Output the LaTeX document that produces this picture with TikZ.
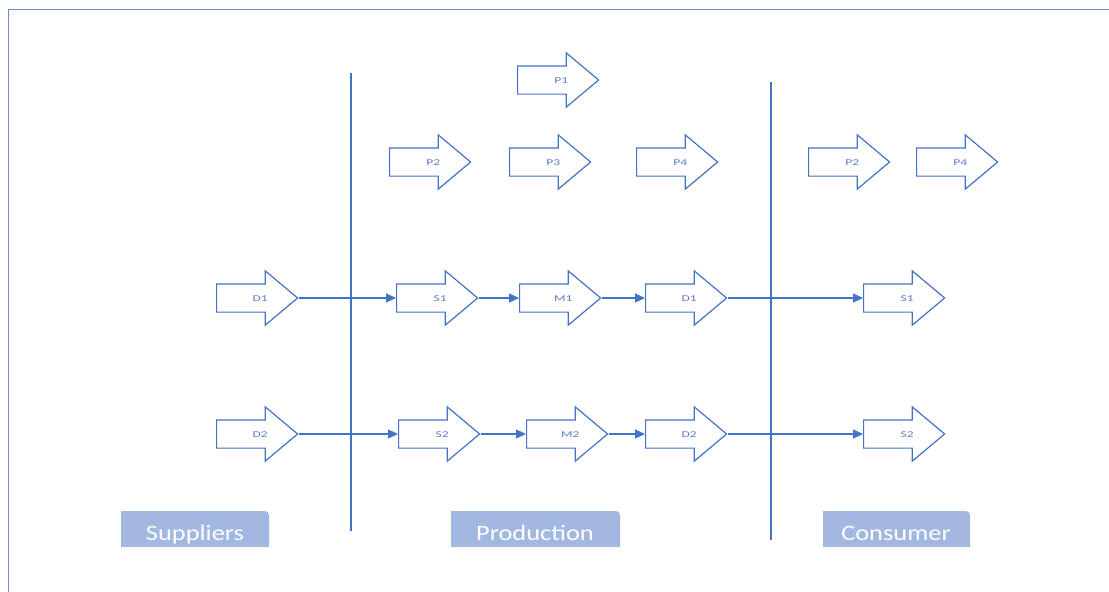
\documentclass[tikz,border=0pt]{standalone}
\usepackage{fontspec}
\setmainfont{Carlito}
\usepackage{tikz}
\usetikzlibrary{shapes.arrows,arrows.meta}
\definecolor{lineblue}{RGB}{68,114,196}
\definecolor{frameblue}{RGB}{110,140,210}
\definecolor{labelblue}{RGB}{90,125,200}
\definecolor{tabblue}{RGB}{162,184,224}
\newcommand{\wide}[2][1.5]{\scalebox{#1}[1]{#2}}

\tikzset{
  blockarrow/.style={draw=lineblue, line width=1.2pt, single arrow, single arrow head extend=13pt,
    single arrow tip angle=80, minimum height=81pt, minimum width=53pt,
    inner xsep=1pt, inner ysep=10.5pt, text height=6pt, text depth=0pt,
    execute at begin node={\hspace*{23pt}},
    text=labelblue, font=\fontsize{9}{11}\selectfont, anchor=tail},
  flow/.style={draw=lineblue, line width=1.1pt, -{Triangle[length=10pt,width=9pt]}},
  divider/.style={draw=lineblue, line width=1.2pt},
  tablabel/.style={text=white, font=\fontsize{22}{26}\selectfont, anchor=base}
}

\begin{document}
\begin{tikzpicture}[x=1pt,y=-1pt]
                    \useasboundingbox (0,0) rectangle (1109,592);
                    \clip (0,0) rectangle (1109,592);
                    \draw[frameblue, line width=1pt] (8,9) rectangle (1130,620);

                    % process steps on top
                    \node[blockarrow] (p1) at (517,80) {\wide{P1}};
                    \node[blockarrow] (p2a) at (389,162) {\wide{P2}};
                    \node[blockarrow] (p3) at (509,162) {\wide{P3}};
                    \node[blockarrow] (p4a) at (636,162) {\wide{P4}};
                    \node[blockarrow] (p2b) at (808,162) {\wide{P2}};
                    \node[blockarrow] (p4b) at (916,162) {\wide{P4}};

                    % first chain
                    \node[blockarrow] (d1in) at (216,298) {\wide{D1}};
                    \node[blockarrow] (s1) at (396,298) {\wide{S1}};
                    \node[blockarrow] (m1) at (519,298) {\wide{M1}};
                    \node[blockarrow] (d1out) at (645,298) {\wide{D1}};
                    \node[blockarrow] (s1c) at (863,298) {\wide{S1}};

                    % second chain
                    \node[blockarrow] (d2in) at (216,434) {\wide{D2}};
                    \node[blockarrow] (s2) at (398,434) {\wide{S2}};
                    \node[blockarrow] (m2) at (526,434) {\wide{M2}};
                    \node[blockarrow] (d2out) at (645,434) {\wide{D2}};
                    \node[blockarrow] (s2c) at (863,434) {\wide{S2}};

                    \draw[flow] (d1in.tip) -- (s1.tail);
                    \draw[flow] (s1.tip) -- (m1.tail);
                    \draw[flow] (m1.tip) -- (d1out.tail);
                    \draw[flow] (d1out.tip) -- (s1c.tail);
                    \draw[flow] (d2in.tip) -- (s2.tail);
                    \draw[flow] (s2.tip) -- (m2.tail);
                    \draw[flow] (m2.tip) -- (d2out.tail);
                    \draw[flow] (d2out.tip) -- (s2c.tail);

                    % stage borders
                    \draw[divider] (351,73) -- (351,531);
                    \draw[divider] (771,82) -- (771,540);

                    % stage tabs
                    \fill[tabblue] (121,547) -- (121,511) [rounded corners=4pt] -- (269,511) [sharp corners] -- (269,547) -- cycle;
                    \fill[tabblue] (451,547) -- (451,511) [rounded corners=4pt] -- (620,511) [sharp corners] -- (620,547) -- cycle;
                    \fill[tabblue] (823,547) -- (823,511) [rounded corners=4pt] -- (970,511) [sharp corners] -- (970,547) -- cycle;
                    \node[tablabel] (suppliers) at (195,540) {\wide[1.2]{Suppliers}};
                    \node[tablabel] (production) at (535,540) {\wide[1.2]{Production}};
                    \node[tablabel] (consumer) at (896,540) {\wide[1.2]{Consumer}};
                \end{tikzpicture}
\end{document}
